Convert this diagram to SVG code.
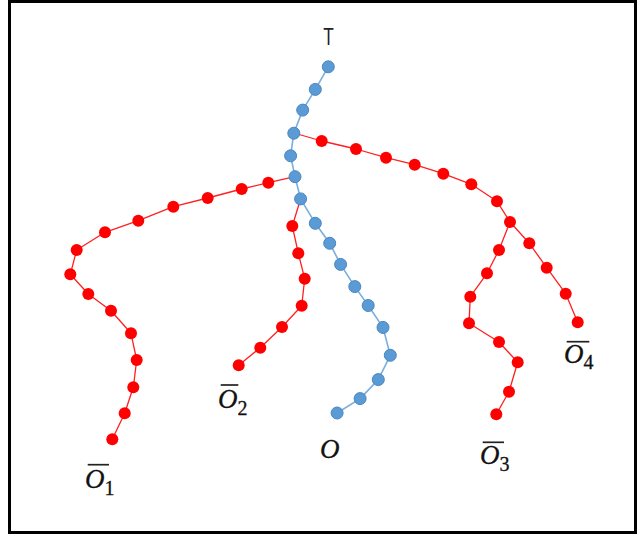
<svg xmlns="http://www.w3.org/2000/svg" width="637" height="535" viewBox="0 0 637 535">
<style>
.bg{fill:#fff}
.frame{fill:none;stroke:#000;stroke-width:3}
.red-line{fill:none;stroke:#ff2020;stroke-width:1.3;stroke-linejoin:round}
.blue-line{fill:none;stroke:#7aaede;stroke-width:1.6;stroke-linejoin:round}
.r{fill:#ff0000}
.b{fill:#5b9bd5;stroke:#4a86bf;stroke-width:1}
.t{font-family:"Liberation Sans","Open Sans",sans-serif;font-size:23px;fill:#222}
.lbl{font-family:"Liberation Serif","DejaVu Serif",serif;font-size:27px;fill:#111;stroke:#111;stroke-width:0.3}
.it{font-style:italic}
.sub{font-size:20px}
.ov{stroke:#222;stroke-width:1.7}
</style>
<rect class="bg" x="0" y="0" width="637" height="535"/>
<rect class="frame" x="9.5" y="1.5" width="626" height="531"/>
<g id="connectors">
<polyline class="red-line" points="294,133 321.7,141 356,149 386,157.7 414.7,164.7 443.3,173.7 471.3,184.3 497,201.3 510,222 529.3,243.3 546.7,267.7 565.7,293.7 577.7,322.3"/>
<polyline class="red-line" points="510,222 499,250 487,273.3 470.3,296.7 469,323.3 499,342 517.7,362.3 509,391.7 496.3,414.3"/>
<polyline class="red-line" points="300.6,199 292.3,226 298.3,253.3 304.7,278.7 301.7,305.7 282,327 260.3,347.7 238.7,365.3"/>
<polyline class="red-line" points="295,176.7 268.3,182.7 241.7,189 207.7,198 173.3,206.7 138.3,220.7 105,232.3 76.7,250 70.3,274.3 88.3,294 111,310.7 131,333.3 136.7,360 133.3,387.3 124.7,413.3 112.3,439.3"/>
<polyline class="blue-line" points="328.3,66.8 315.3,89.4 302.7,110.1 293.8,133.2 290.6,155.8 295,176.7 300.6,198.9 315.3,223.3 329.7,243.3 340.6,264.4 354.8,286.6 368.2,305.5 383,327.4 390.3,355.3 378.3,379.6 360.1,398.6 337.1,413"/>
</g>
<g id="path-o4">
<circle class="r" cx="321.7" cy="141" r="6"/><circle class="r" cx="356" cy="149" r="6"/><circle class="r" cx="386" cy="157.7" r="6"/><circle class="r" cx="414.7" cy="164.7" r="6"/><circle class="r" cx="443.3" cy="173.7" r="6"/><circle class="r" cx="471.3" cy="184.3" r="6"/><circle class="r" cx="497" cy="201.3" r="6"/><circle class="r" cx="510" cy="222" r="6"/><circle class="r" cx="529.3" cy="243.3" r="6"/><circle class="r" cx="546.7" cy="267.7" r="6"/><circle class="r" cx="565.7" cy="293.7" r="6"/><circle class="r" cx="577.7" cy="322.3" r="6"/>
</g>
<g id="path-o3">
<circle class="r" cx="499" cy="250" r="6"/><circle class="r" cx="487" cy="273.3" r="6"/><circle class="r" cx="470.3" cy="296.7" r="6"/><circle class="r" cx="469" cy="323.3" r="6"/><circle class="r" cx="499" cy="342" r="6"/><circle class="r" cx="517.7" cy="362.3" r="6"/><circle class="r" cx="509" cy="391.7" r="6"/><circle class="r" cx="496.3" cy="414.3" r="6"/>
</g>
<g id="path-o2">
<circle class="r" cx="292.3" cy="226" r="6"/><circle class="r" cx="298.3" cy="253.3" r="6"/><circle class="r" cx="304.7" cy="278.7" r="6"/><circle class="r" cx="301.7" cy="305.7" r="6"/><circle class="r" cx="282" cy="327" r="6"/><circle class="r" cx="260.3" cy="347.7" r="6"/><circle class="r" cx="238.7" cy="365.3" r="6"/>
</g>
<g id="path-o1">
<circle class="r" cx="268.3" cy="182.7" r="6"/><circle class="r" cx="241.7" cy="189" r="6"/><circle class="r" cx="207.7" cy="198" r="6"/><circle class="r" cx="173.3" cy="206.7" r="6"/><circle class="r" cx="138.3" cy="220.7" r="6"/><circle class="r" cx="105" cy="232.3" r="6"/><circle class="r" cx="76.7" cy="250" r="6"/><circle class="r" cx="70.3" cy="274.3" r="6"/><circle class="r" cx="88.3" cy="294" r="6"/><circle class="r" cx="111" cy="310.7" r="6"/><circle class="r" cx="131" cy="333.3" r="6"/><circle class="r" cx="136.7" cy="360" r="6"/><circle class="r" cx="133.3" cy="387.3" r="6"/><circle class="r" cx="124.7" cy="413.3" r="6"/><circle class="r" cx="112.3" cy="439.3" r="6"/>
</g>
<g id="path-o">
<circle class="b" cx="328.3" cy="66.8" r="6"/><circle class="b" cx="315.3" cy="89.4" r="6"/><circle class="b" cx="302.7" cy="110.1" r="6"/><circle class="b" cx="293.8" cy="133.2" r="6"/><circle class="b" cx="290.6" cy="155.8" r="6"/><circle class="b" cx="295" cy="176.7" r="6"/><circle class="b" cx="300.6" cy="198.9" r="6"/><circle class="b" cx="315.3" cy="223.3" r="6"/><circle class="b" cx="329.7" cy="243.3" r="6"/><circle class="b" cx="340.6" cy="264.4" r="6"/><circle class="b" cx="354.8" cy="286.6" r="6"/><circle class="b" cx="368.2" cy="305.5" r="6"/><circle class="b" cx="383" cy="327.4" r="6"/><circle class="b" cx="390.3" cy="355.3" r="6"/><circle class="b" cx="378.3" cy="379.6" r="6"/><circle class="b" cx="360.1" cy="398.6" r="6"/><circle class="b" cx="337.1" cy="413" r="6"/>
</g>
<g id="label-T">
<text class="t" x="0" y="0" text-anchor="middle" transform="translate(328.5,45) scale(0.75,1)">T</text>
</g>
<g id="label-O1">
<line class="ov" x1="87.7" y1="464.7" x2="109" y2="464.7"/>
<text class="lbl" x="85" y="488"><tspan class="it">O</tspan><tspan class="sub" dy="6.5">1</tspan></text>
</g>
<g id="label-O2">
<line class="ov" x1="220.7" y1="385" x2="238.3" y2="385"/>
<text class="lbl" x="218" y="407.5"><tspan class="it">O</tspan><tspan class="sub" dy="7">2</tspan></text>
</g>
<g id="label-O">
<text class="lbl it" x="320" y="458">O</text>
</g>
<g id="label-O3">
<line class="ov" x1="482.7" y1="442.3" x2="504" y2="442.3"/>
<text class="lbl" x="480" y="464"><tspan class="it">O</tspan><tspan class="sub" dy="6.5">3</tspan></text>
</g>
<g id="label-O4">
<line class="ov" x1="566.7" y1="341.7" x2="589.3" y2="341.7"/>
<text class="lbl" x="564" y="363"><tspan class="it">O</tspan><tspan class="sub" dy="6">4</tspan></text>
</g>
</svg>
